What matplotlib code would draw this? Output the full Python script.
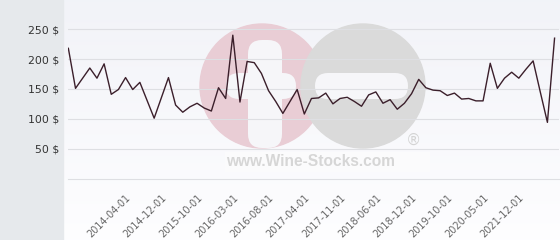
import matplotlib.pyplot as plt
import numpy as np
from matplotlib.patches import Circle, FancyBboxPatch, Rectangle

# monthly bottle price
prices = [218, 151, 168, 185, 168, 192, 141, 149, 169, 149,
          161, 131, 101, 135, 169, 123, 111, 120, 126, 118,
          113, 152, 134, 240, 128, 196, 194, 176, 147, 129,
          109, 129, 149, 108, 134, 135, 143, 125, 134, 136,
          129, 121, 140, 145, 126, 132, 116, 126, 142, 166,
          152, 148, 147, 139, 143, 133, 134, 130, 130, 193,
          151, 168, 178, 168, 183, 197, 145, 94, 235]

date_labels = ['2014-04-01', '2014-12-01', '2015-10-01', '2016-03-01',
               '2016-08-01', '2017-04-01', '2017-11-01', '2018-06-01',
               '2018-12-01', '2019-10-01', '2020-05-01', '2021-12-01']
label_idx = list(range(8, 64, 5))

y_ticks = [50, 100, 150, 200, 250]
y_labels = ['50 $', '100 $', '150 $', '200 $', '250 $']

fig = plt.figure(figsize=(5.6, 2.4), dpi=100)
fig.patch.set_facecolor('white')

# background: grey strip on the left, soft gradient + watermark in the plot area
bg = fig.add_axes([0, 0, 1, 1], zorder=0)
bg.set_xlim(0, 560)
bg.set_ylim(240, 0)
bg.axis('off')
grad = np.linspace(0, 1, 100).reshape(-1, 1)
top = np.array([0.949, 0.953, 0.973])
bot = np.array([0.995, 0.995, 1.0])
img = top + (bot - top) * grad[..., None]
bg.imshow(img, extent=[63, 560, 240, 0], aspect='auto')
bg.add_patch(Rectangle((0, 0), 63, 240, color='#e6e9ec'))

# wine-stocks logo watermark
bg.add_patch(Circle((262, 86), 62, color='#e9cdd5'))
bg.add_patch(FancyBboxPatch((226, 73), 70, 26, boxstyle='round,pad=0,rounding_size=13',
                            color='#f6f6f9', lw=0))
bg.add_patch(FancyBboxPatch((248, 40), 34, 108, boxstyle='round,pad=0,rounding_size=14',
                            color='#f6f6f9', lw=0))
bg.add_patch(Circle((363, 86), 62, color='#dadada'))
bg.add_patch(FancyBboxPatch((315, 73), 93, 26, boxstyle='round,pad=0,rounding_size=13',
                            color='#f6f6f9', lw=0))
bg.text(413, 140, '\u00ae', fontsize=11, color='#d4d4d4', ha='center', va='center')
bg.add_patch(Rectangle((225, 152), 205, 20, color='#fbfbfc', lw=0))
bg.text(311, 162, 'www.Wine-Stocks.com', fontsize=11.2, fontweight='bold',
        family='Liberation Sans', color='#d6d6d6', ha='center', va='center')

ax = fig.add_axes([68 / 560, 61.5 / 240, 491 / 560, 167.2 / 240], zorder=1)
ax.patch.set_alpha(0)
x = np.arange(len(prices))
ax.plot(x, prices, color='#3b1f2b', lw=1)

ax.set_xlim(-0.05, 68.62)
ax.set_ylim(0, 280)
ax.set_yticks(y_ticks)
ax.set_yticklabels(y_labels, fontsize=7.8, color='#333333')
ax.set_xticks(label_idx)
ax.set_xticklabels(date_labels, fontsize=7, color='#666666', rotation=45,
                   ha='right', va='top', rotation_mode='anchor')
ax.tick_params(axis='y', length=0, pad=6.5)
ax.tick_params(axis='x', length=0, pad=10)
ax.grid(axis='y', color='#dedfe3', lw=0.8)
for s in ['top', 'right', 'left']:
    ax.spines[s].set_visible(False)
ax.spines['bottom'].set_color('#dedfe3')
ax.spines['bottom'].set_linewidth(0.8)

plt.savefig('out.png', dpi=100)
